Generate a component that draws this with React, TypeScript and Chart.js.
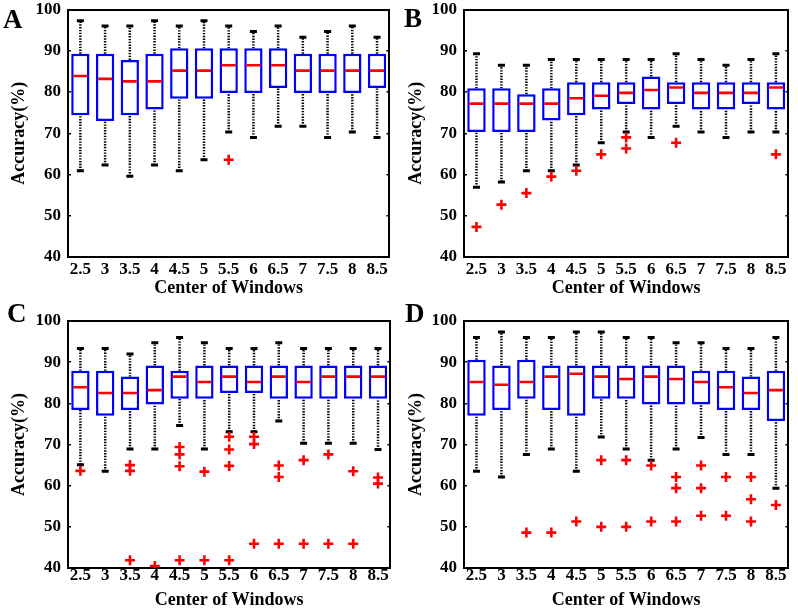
import React, { useEffect, useRef } from 'react';
import { Chart, registerables } from 'chart.js';
Chart.register(...registerables);

const categories = ['2.5', '3', '3.5', '4', '4.5', '5', '5.5', '6', '6.5', '7', '7.5', '8', '8.5'];
const yMin = 40;
const yMax = 100;
const yStep = 10;
const xTitle = 'Center of Windows';
const yTitle = 'Accuracy(%)';

// Panel A
const aHigh = [97.3, 96.0, 96.0, 97.3, 96.0, 97.3, 96.0, 94.7, 96.0, 93.3, 94.7, 96.0, 93.3];
const aQ3 = [89.3, 89.3, 87.8, 89.3, 90.6, 90.6, 90.6, 90.6, 90.6, 89.3, 89.3, 89.3, 89.3];
const aMedian = [83.9, 83.2, 82.6, 82.6, 85.2, 85.2, 86.5, 86.5, 86.5, 85.2, 85.2, 85.2, 85.2];
const aQ1 = [74.4, 73.0, 74.4, 75.8, 78.4, 78.4, 79.8, 79.8, 81.0, 79.8, 79.8, 79.8, 81.0];
const aLow = [60.9, 62.3, 59.6, 62.3, 60.9, 63.6, 70.3, 69.0, 71.7, 71.7, 69.0, 70.3, 69.0];
const aOutliers: [string, number][] = [['5.5', 63.6]];

// Panel B
const bHigh = [89.3, 86.5, 86.5, 87.9, 87.9, 87.9, 87.9, 87.9, 89.3, 87.9, 86.5, 87.9, 89.3];
const bQ3 = [80.9, 80.9, 79.5, 80.9, 82.4, 82.4, 82.4, 83.8, 82.4, 82.4, 82.4, 82.4, 82.4];
const bMedian = [77.2, 77.2, 77.2, 77.2, 78.5, 79.1, 79.8, 80.5, 81.1, 79.8, 79.8, 79.8, 81.1];
const bQ1 = [70.3, 70.3, 70.3, 73.1, 74.4, 75.8, 77.1, 75.8, 77.1, 75.8, 75.8, 77.1, 75.8];
const bLow = [56.9, 58.2, 60.9, 60.9, 62.3, 67.7, 70.3, 69.0, 71.7, 70.3, 69.0, 70.3, 70.3];
const bOutliers: [string, number][] = [
  ['2.5', 47.3], ['3', 52.7], ['3.5', 55.5], ['4', 59.5], ['4.5', 60.9], ['5', 64.9],
  ['5.5', 69.0], ['5.5', 66.3], ['6.5', 67.7], ['8.5', 64.9],
];

// Panel C
const cHigh = [93.3, 93.3, 92.0, 94.7, 96.0, 94.7, 93.3, 93.3, 94.7, 93.3, 93.3, 93.3, 93.3];
const cQ3 = [87.9, 87.9, 86.5, 89.2, 87.9, 89.2, 89.2, 89.2, 89.2, 89.2, 89.2, 89.2, 89.2];
const cMedian = [83.9, 82.5, 82.5, 83.2, 86.5, 85.2, 86.5, 85.2, 86.5, 85.2, 86.5, 86.5, 86.5];
const cQ1 = [78.4, 77.0, 78.4, 79.7, 81.1, 81.1, 82.5, 82.5, 81.1, 81.1, 81.1, 81.1, 81.1];
const cLow = [65.1, 63.5, 68.9, 68.9, 74.6, 68.9, 73.1, 73.1, 75.7, 70.3, 70.3, 70.3, 68.8];
const cOutliers: [string, number][] = [
  ['2.5', 63.6],
  ['3.5', 65.0], ['3.5', 63.6], ['3.5', 41.9],
  ['4', 40.5],
  ['4.5', 69.4], ['4.5', 67.6], ['4.5', 64.7], ['4.5', 41.9],
  ['5', 63.4], ['5', 41.9],
  ['5.5', 71.9], ['5.5', 68.8], ['5.5', 64.8], ['5.5', 41.9],
  ['6', 71.9], ['6', 70.1], ['6', 45.9],
  ['6.5', 64.9], ['6.5', 62.1], ['6.5', 45.9],
  ['7', 66.2], ['7', 45.9],
  ['7.5', 67.6], ['7.5', 45.9],
  ['8', 63.5], ['8', 45.9],
  ['8.5', 62.0], ['8.5', 60.5],
];

// Panel D
const dHigh = [96.0, 97.3, 96.0, 96.0, 97.3, 97.3, 96.0, 96.0, 94.7, 94.7, 93.3, 93.3, 96.0];
const dQ3 = [90.6, 89.2, 90.6, 89.2, 89.2, 89.2, 89.2, 89.2, 89.2, 87.9, 87.9, 86.5, 87.9];
const dMedian = [85.2, 84.5, 85.2, 86.5, 87.2, 86.5, 85.9, 86.5, 85.9, 85.2, 83.9, 82.5, 83.2];
const dQ1 = [77.0, 78.4, 81.1, 78.4, 77.0, 81.1, 81.1, 79.7, 79.7, 79.7, 78.4, 78.4, 75.7];
const dLow = [63.5, 62.1, 67.6, 68.9, 63.5, 71.8, 68.9, 66.2, 68.9, 71.7, 67.6, 67.6, 59.4];
const dOutliers: [string, number][] = [
  ['3.5', 48.6], ['4', 48.6], ['4.5', 51.3],
  ['5', 66.2], ['5', 50.0],
  ['5.5', 66.2], ['5.5', 50.0],
  ['6', 64.9], ['6', 51.3],
  ['6.5', 62.1], ['6.5', 59.4], ['6.5', 51.3],
  ['7', 64.9], ['7', 59.4], ['7', 52.7],
  ['7.5', 62.1], ['7.5', 52.7],
  ['8', 62.1], ['8', 56.7], ['8', 51.3],
  ['8.5', 55.3],
];

const FONT = '"Liberation Serif", "Times New Roman", serif';
const BLUE = 'rgb(0,0,255)';
const RED = 'rgb(255,0,0)';

type Panel = {
  letter: string;
  left: number; top: number; width: number; height: number;
  yWidth: number; xHeight: number; padTop: number; padRight: number;
  xTickPad: number; xTitlePad: number; yTitlePad: number;
  letterLeft: number; letterTop: number;
  high: number[]; q3: number[]; median: number[]; q1: number[]; low: number[];
  outliers: [string, number][];
};

const panels: Panel[] = [
  { letter: 'A', left: 0, top: 0, width: 399, height: 300, yWidth: 68, xHeight: 43, padTop: 8, padRight: 2,
    xTickPad: 2, xTitlePad: 1, yTitlePad: 9, letterLeft: 3, letterTop: 3,
    high: aHigh, q3: aQ3, median: aMedian, q1: aQ1, low: aLow, outliers: aOutliers },
  { letter: 'B', left: 398, top: 0, width: 400, height: 300, yWidth: 66, xHeight: 43, padTop: 8, padRight: 4,
    xTickPad: 2, xTitlePad: 1, yTitlePad: 8, letterLeft: 6, letterTop: 2,
    high: bHigh, q3: bQ3, median: bMedian, q1: bQ1, low: bLow, outliers: bOutliers },
  { letter: 'C', left: 0, top: 300, width: 400, height: 310, yWidth: 68, xHeight: 42, padTop: 21, padRight: 3,
    xTickPad: -3, xTitlePad: -1, yTitlePad: 9, letterLeft: 7, letterTop: -3,
    high: cHigh, q3: cQ3, median: cMedian, q1: cQ1, low: cLow, outliers: cOutliers },
  { letter: 'D', left: 398, top: 300, width: 400, height: 310, yWidth: 66, xHeight: 42, padTop: 21, padRight: 4,
    xTickPad: -3, xTitlePad: -1, yTitlePad: 8, letterLeft: 7, letterTop: -3,
    high: dHigh, q3: dQ3, median: dMedian, q1: dQ1, low: dLow, outliers: dOutliers },
];

function BoxPanel({ p }: { p: Panel }) {
  const ref = useRef<HTMLCanvasElement>(null);
  useEffect(() => {
    if (!ref.current) return;
    const whiskers: any[] = [];
    categories.forEach((c, i) => {
      whiskers.push({ x: c, y: p.low[i] }, { x: c, y: p.q1[i] }, { x: c, y: null });
      whiskers.push({ x: c, y: p.q3[i] }, { x: c, y: p.high[i] }, { x: c, y: null });
    });
    const caps: any[] = [];
    categories.forEach((c, i) => {
      caps.push({ x: c, y: p.low[i] }, { x: c, y: p.high[i] });
    });
    const noPad = (s: any) => { s.paddingTop = 0; s.paddingBottom = 0; s.paddingLeft = 0; s.paddingRight = 0; };
    const chart = new Chart(ref.current, {
      type: 'bar',
      data: {
        labels: categories,
        datasets: [
          {
            type: 'line',
            data: p.outliers.map(([c, v]) => ({ x: c, y: v })),
            showLine: false,
            pointStyle: 'cross',
            pointRadius: 5,
            pointBorderWidth: 2.6,
            pointBorderColor: RED,
            borderColor: RED,
            order: 0,
          } as any,
          {
            type: 'line',
            data: categories.map((c, i) => ({ x: c, y: p.median[i] })),
            showLine: false,
            pointStyle: 'line',
            pointRadius: 7,
            pointBorderWidth: 2.6,
            pointBorderColor: RED,
            borderColor: RED,
            order: 1,
          } as any,
          {
            type: 'bar',
            data: categories.map((c, i) => [p.q1[i], p.q3[i]]),
            backgroundColor: 'white',
            borderColor: BLUE,
            borderWidth: 2.5,
            borderSkipped: false,
            barPercentage: 0.74,
            categoryPercentage: 1,
            order: 2,
          } as any,
          {
            type: 'line',
            data: caps,
            showLine: false,
            pointStyle: 'line',
            pointRadius: 3.5,
            pointBorderWidth: 3,
            pointBorderColor: 'black',
            borderColor: 'black',
            order: 3,
          } as any,
          {
            type: 'line',
            data: whiskers,
            spanGaps: false,
            pointRadius: 0,
            borderColor: 'black',
            borderWidth: 2.5,
            borderDash: [1.4, 1.4],
            order: 4,
          } as any,
        ],
      },
      options: {
        responsive: false,
        animation: false,
        events: [],
        layout: { padding: { top: p.padTop, right: p.padRight, left: 0, bottom: 0 } },
        plugins: { legend: { display: false }, tooltip: { enabled: false } },
        scales: {
          x: {
            type: 'category',
            offset: true,
            position: 'bottom',
            grid: { display: false, drawTicks: false },
            border: { display: true, color: 'black', width: 2 },
            ticks: { color: 'black', font: { family: FONT, size: 17, weight: 'bold' }, padding: p.xTickPad, maxRotation: 0, autoSkip: false },
            title: { display: true, text: xTitle, color: 'black', font: { family: FONT, size: 18, weight: 'bold' }, padding: { top: 0, bottom: p.xTitlePad } },
            afterFit: (s: any) => { s.height = p.xHeight; noPad(s); },
          },
          x2: {
            type: 'linear',
            axis: 'x',
            position: 'top',
            min: 0, max: 1,
            grid: { display: false, drawTicks: false },
            border: { display: true, color: 'black', width: 2 },
            ticks: { display: false },
            afterFit: (s: any) => { s.height = 0; noPad(s); },
          },
          y: {
            type: 'linear',
            position: 'left',
            min: yMin, max: yMax,
            grid: { display: true, drawOnChartArea: false, drawTicks: true, tickLength: -3, color: 'black', lineWidth: 1.5 },
            border: { display: true, color: 'black', width: 2 },
            ticks: { stepSize: yStep, color: 'black', font: { family: FONT, size: 17, weight: 'bold' }, padding: 10 },
            title: { display: true, text: yTitle, color: 'black', font: { family: FONT, size: 18, weight: 'bold' }, padding: { top: p.yTitlePad, bottom: 0 } },
            afterFit: (s: any) => { s.width = p.yWidth; noPad(s); },
          },
          y2: {
            type: 'linear',
            axis: 'y',
            position: 'right',
            min: yMin, max: yMax,
            grid: { display: true, drawOnChartArea: false, drawTicks: true, tickLength: -3, color: 'black', lineWidth: 1.5 },
            border: { display: true, color: 'black', width: 2 },
            ticks: { stepSize: yStep, display: false },
            afterFit: (s: any) => { s.width = 0; noPad(s); },
          },
        },
      } as any,
    });
    return () => chart.destroy();
  }, [p]);
  return (
    <>
      <canvas
        ref={ref}
        width={p.width}
        height={p.height}
        style={{ position: 'absolute', left: p.left, top: p.top, width: p.width, height: p.height }}
      />
      <div
        style={{
          position: 'absolute', left: p.left + p.letterLeft, top: p.top + p.letterTop,
          fontFamily: FONT, fontWeight: 'bold', fontSize: 27, lineHeight: '32px', color: 'black',
        }}
      >
        {p.letter}
      </div>
    </>
  );
}

export default function App() {
  return (
    <div style={{ position: 'absolute', left: 0, top: 0, width: 798, height: 610, background: 'white', overflow: 'hidden' }}>
      {panels.map((p) => (
        <BoxPanel key={p.letter} p={p} />
      ))}
    </div>
  );
}
